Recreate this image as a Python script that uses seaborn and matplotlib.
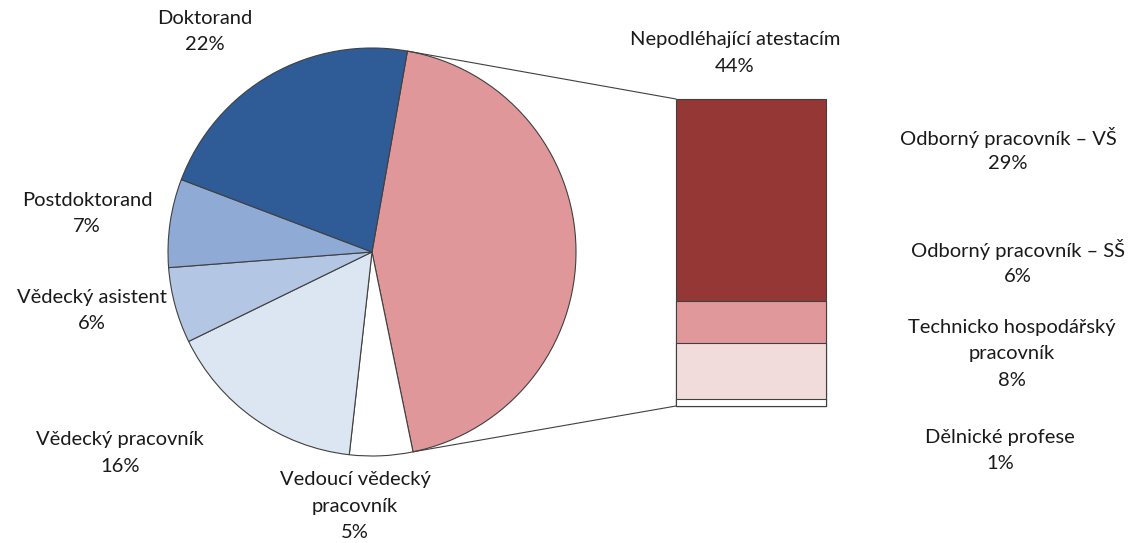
import matplotlib
matplotlib.use("Agg")
import matplotlib.pyplot as plt
import seaborn as sns
import pandas as pd
import numpy as np
from matplotlib.patches import ConnectionPatch

# ====================== DATA ======================
pie_labels = ["Nepodléhající atestacím", "Vedoucí vědecký\npracovník",
              "Vědecký pracovník", "Vědecký asistent", "Postdoktorand", "Doktorand"]
pie_values = [44, 5, 16, 6, 7, 22]
pie_colors = ["#E0979A", "#FFFFFF", "#DCE6F2", "#B3C6E3", "#8EAAD5", "#2F5C97"]

bar_labels = ["Odborný pracovník – VŠ", "Odborný pracovník – SŠ",
              "Technicko hospodářský\npracovník", "Dělnické profese"]
bar_values = [29, 6, 8, 1]
bar_colors = ["#953735", "#E0989A", "#F2DCDB", "#FFFFFF"]

# label positions in pixels (x center, y of first line)
pie_label_pos = [(735, 40), (355, 480), (120, 440), (92, 297), (87, 200), (205, 18)]
bar_label_pos = [(1008, 137), (1018, 250), (1012, 327), (1000, 437)]

W, H = 1134, 543
EDGE = "#404040"
TXT = "#1a1a1a"

sns.set_theme(style="white")
plt.rcParams["font.family"] = ["Lato", "DejaVu Sans"]

fig = plt.figure(figsize=(W / 100, H / 100), dpi=100)


def px_box(x0, y0, x1, y1):
    return [x0 / W, 1 - y1 / H, (x1 - x0) / W, (y1 - y0) / H]


# ---- pie ----
ax_pie = fig.add_axes(px_box(168, 48, 576, 456))
wedges, _ = ax_pie.pie(pie_values, colors=pie_colors, startangle=80, counterclock=False,
                       wedgeprops=dict(edgecolor=EDGE, linewidth=0.8, clip_on=False))
ax_pie.set_xlim(-1, 1)
ax_pie.set_ylim(-1, 1)
ax_pie.axis("off")

# ---- stacked bar (overlapping cumulative bars, tallest first) ----
ax_bar = fig.add_axes(px_box(676, 99, 826, 406))
cum = list(np.cumsum(bar_values[::-1]))[::-1]
for h, c in zip(cum, bar_colors):
    sns.barplot(data=pd.DataFrame({"g": ["x"], "v": [h]}), x="g", y="v", color=c,
                width=1, saturation=1, edgecolor=EDGE, linewidth=0.8, ax=ax_bar)
for p in ax_bar.patches:
    p.set_clip_on(False)
ax_bar.set_xlim(-0.5, 0.5)
ax_bar.set_ylim(0, sum(bar_values))
ax_bar.axis("off")

# ---- connector lines ----
w0 = wedges[0]
for ang, yb in [(w0.theta2, sum(bar_values)), (w0.theta1, 0)]:
    p = (np.cos(np.radians(ang)), np.sin(np.radians(ang)))
    con = ConnectionPatch(xyA=p, coordsA=ax_pie.transData, xyB=(-0.5, yb),
                          coordsB=ax_bar.transData, color=EDGE, linewidth=0.8)
    fig.add_artist(con)

# ---- labels ----
LINE = 26.5
for lab, v, (x, y) in zip(pie_labels + bar_labels, pie_values + bar_values,
                          pie_label_pos + bar_label_pos):
    lines = lab.split("\n") + [f"{v}%"]
    for i, t in enumerate(lines):
        fig.text(x / W, 1 - (y + i * LINE) / H, t, ha="center", va="center",
                 fontsize=14.5, color=TXT)

fig.savefig("out.png", dpi=100)
